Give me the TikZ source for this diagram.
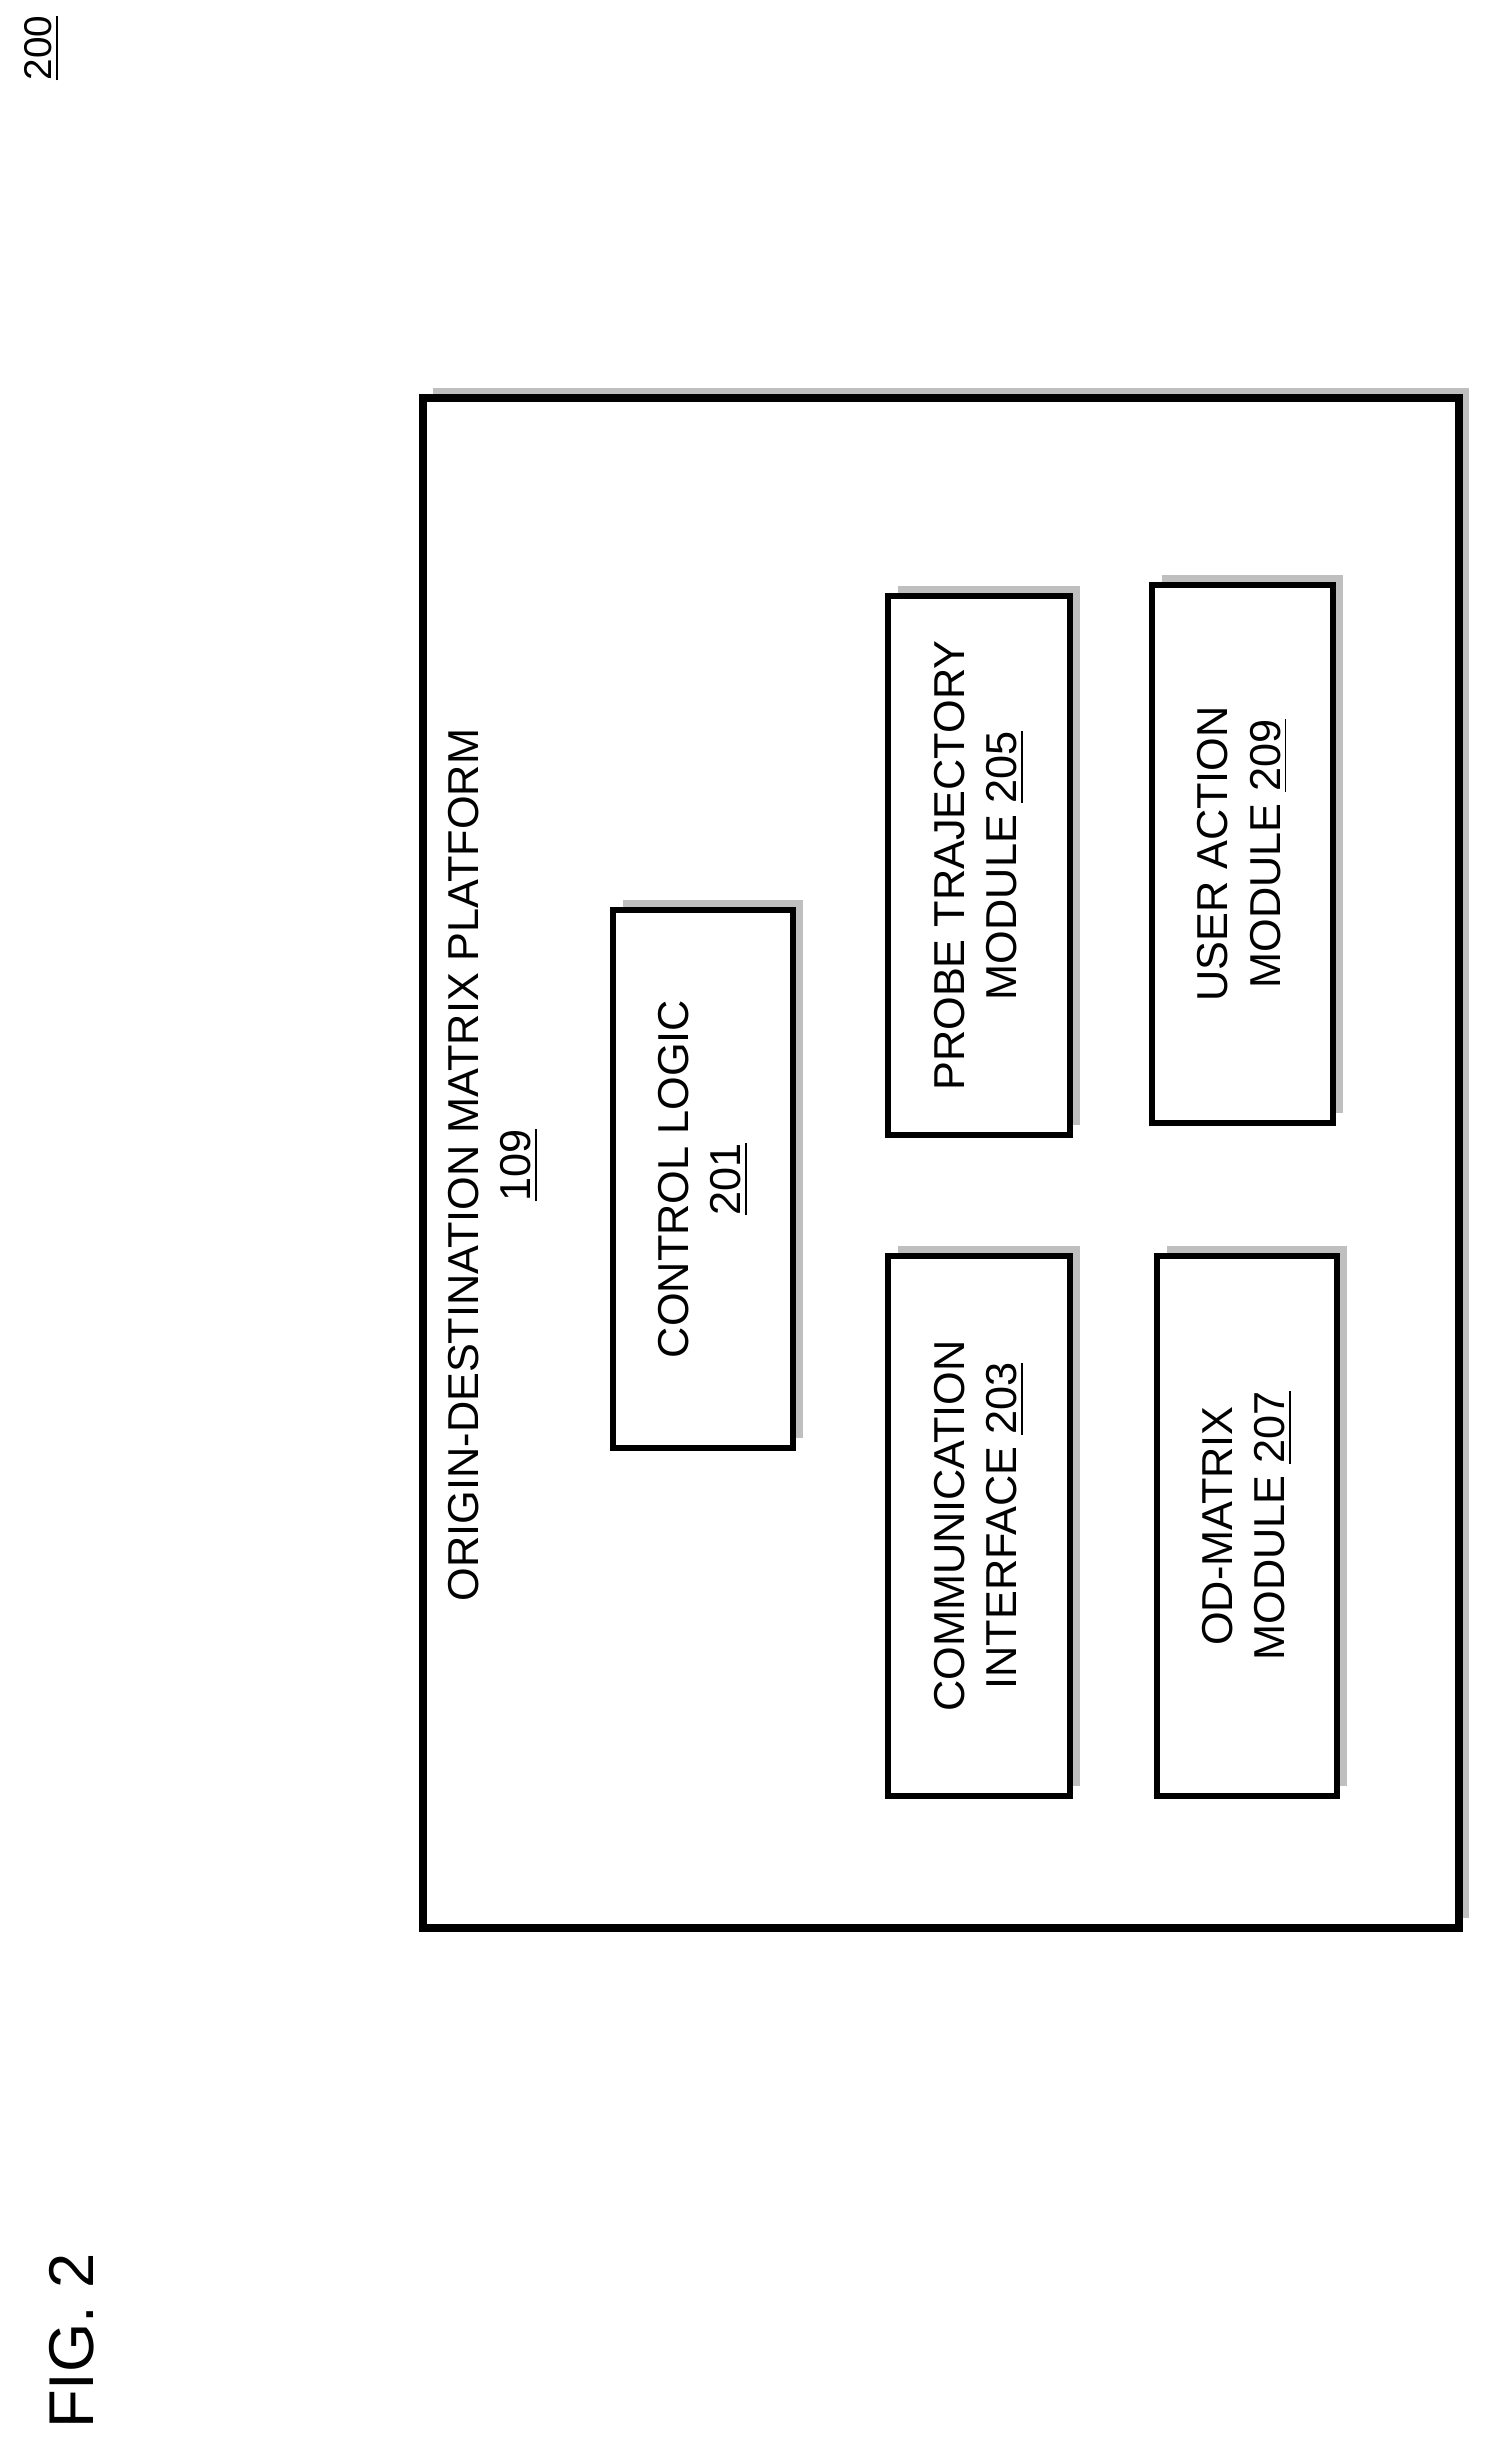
\documentclass[tikz,border=0pt]{standalone}
\usepackage{fontspec}
\setmainfont{Liberation Sans}
\begin{document}
\begin{tikzpicture}[x=0.01cm,y=-0.01cm,
  shadowbox/.style={fill=gray!50,draw=none},
  modbox/.style={draw=black,line width=1.9pt,fill=white},
  lbl/.style={rotate=90,align=center,font=\fontsize{12.3pt}{15pt}\selectfont,inner sep=0pt}]
\useasboundingbox (0,0) rectangle (1493,2442);
% outer platform
\fill[shadowbox] (433,388) rectangle (1469,1918);
\draw[modbox,line width=2.1pt] (423,398) rectangle (1459,1928);
\node[lbl] (title) at (493,1165) {ORIGIN-DESTINATION MATRIX PLATFORM\\\underline{109}};
% modules
\newcommand{\modul}[6]{%
  \fill[shadowbox] (#1+10,#2-10) rectangle (#3+10,#4-10);
  \draw[modbox] (#1,#2) rectangle (#3,#4);
  \node[lbl] (#5) at ({(#1+#3)/2},{(#2+#4)/2}) {#6};}
\modul{613}{910}{793}{1448}{ctl}{CONTROL LOGIC\\\underline{201}}
\modul{888}{1256}{1070}{1796}{comm}{COMMUNICATION\\INTERFACE \underline{203}}
\modul{888}{596}{1070}{1135}{probe}{PROBE TRAJECTORY\\MODULE \underline{205}}
\modul{1157}{1256}{1337}{1796}{od}{OD-MATRIX\\MODULE \underline{207}}
\modul{1152}{585}{1333}{1123}{user}{USER ACTION\\MODULE \underline{209}}
\node[rotate=90,inner sep=0pt,font=\fontsize{11pt}{13pt}\selectfont] (ref) at (42,48) {\underline{200}};
\node[rotate=90,inner sep=0pt,font=\fontsize{18pt}{22pt}\selectfont] (fig) at (72,2341) {FIG. 2};
\end{tikzpicture}
\end{document}
